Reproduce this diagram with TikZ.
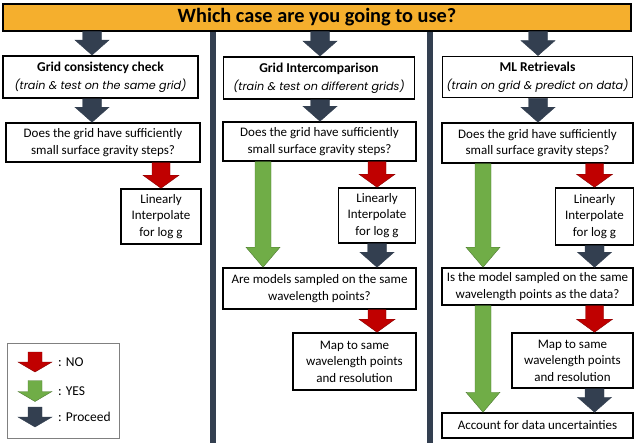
\documentclass[tikz,border=0pt]{standalone}
\usepackage{fontspec}
\setmainfont{Carlito}
\newfontfamily\hdfont{Poppins}
\usetikzlibrary{calc}
\definecolor{navy}{HTML}{333F50}
\definecolor{nored}{HTML}{C00000}
\definecolor{yesgreen}{HTML}{70AD47}
\definecolor{caseorange}{HTML}{F5AF2D}

% block arrow: style, top point, tip point
\tikzset{arrshaft/.store in=\arrshaft, arrhead/.store in=\arrhead,
  arrtip/.store in=\arrtip}
\newcommand{\bigarrow}[3]{%
  \path[#1] let \p1=(#2), \p2=(#3) in
    ({\x1-\arrshaft},\y1) -- ({\x1+\arrshaft},\y1)
    -- ({\x1+\arrshaft},{\y2+\arrtip}) -- ({\x1+\arrhead},{\y2+\arrtip})
    -- (\x1,\y2) -- ({\x1-\arrhead},{\y2+\arrtip})
    -- ({\x1-\arrshaft},{\y2+\arrtip}) -- cycle;}
\newcommand{\hdsub}[1]{{\hdfont\itshape\fontsize{11.2}{14}\selectfont #1}}

\begin{document}
\begin{tikzpicture}[
  x=1pt,y=-1pt,
  box/.style={draw, line width=1.5pt, fill=white, inner sep=0pt,
    align=center, font=\fontsize{13}{16.5}\selectfont},
  headbox/.style={box, line width=1.8pt, font=\fontsize{13.5}{18}\selectfont},
  titlebar/.style={draw, line width=1.2pt, fill=caseorange, inner sep=0pt,
    font=\bfseries\fontsize{20.3}{24}\selectfont},
  keytext/.style={anchor=west, inner sep=0pt, font=\fontsize{13.5}{15}\selectfont},
  goarrow/.style={fill=navy, draw=navy, line width=0.4pt,
    arrshaft=9.5pt, arrhead=17pt, arrtip=15pt},
  noarrow/.style={fill=nored, draw=nored!70!black, line width=0.4pt,
    arrshaft=9pt, arrhead=18pt, arrtip=13pt},
  yesarrow/.style={fill=yesgreen, draw=yesgreen!70!black, line width=0.4pt,
    arrshaft=8pt, arrhead=17pt, arrtip=20pt},
  keyarrow/.style={arrshaft=7pt, arrhead=17pt, arrtip=10pt},
  ]
  \useasboundingbox (0,0) rectangle (634,443);
  % column separators
  \fill[navy] (209.5,31) rectangle (215.5,443);
  \fill[navy] (427,31) rectangle (433,443);
  % title
  \node[titlebar, minimum width=628pt, minimum height=27pt] (title)
    at (317,17.5) {Which case are you going to use?};
  % case headers
  \node[headbox, minimum width=195pt, minimum height=42pt] (hd1) at (100.5,77)
    {\textbf{Grid consistency check}\\\hdsub{(train \& test on the same grid)}};
  \node[headbox, minimum width=191pt, minimum height=42pt] (hd2) at (319,78)
    {\textbf{Grid Intercomparison}\\\hdsub{(train \& test on different grids)}};
  \node[headbox, minimum width=190pt, minimum height=41pt] (hd3) at (537.5,77)
    {\textbf{ML Retrievals}\\\hdsub{(train on grid \& predict on data)}};
  % first question
  \node[box, minimum width=194pt, minimum height=39pt] (qa1) at (103,142.5)
    {Does the grid have sufficiently\\small surface gravity steps?};
  \node[box, minimum width=193pt, minimum height=39pt] (qa2) at (319.5,141.5)
    {Does the grid have sufficiently\\small surface gravity steps?};
  \node[box, minimum width=191pt, minimum height=40pt] (qa3) at (537.5,143)
    {Does the grid have sufficiently\\small surface gravity steps?};
  % interpolation
  \node[box, minimum width=80pt, minimum height=55pt] (lin1) at (161,216.5)
    {Linearly\\Interpolate\\for log g};
  \node[box, minimum width=77pt, minimum height=55pt] (lin2) at (377,215.5)
    {Linearly\\Interpolate\\for log g};
  \node[box, minimum width=78pt, minimum height=57pt] (lin3) at (594.5,216.5)
    {Linearly\\Interpolate\\for log g};
  % wavelength question
  \node[box, minimum width=193pt, minimum height=41pt] (qb2) at (319.5,288.5)
    {Are models sampled on the same\\wavelength points?};
  \node[box, minimum width=191pt, minimum height=37pt] (qb3) at (537.5,286.5)
    {Is the model sampled on the same\\wavelength points as the data?};
  % mapping
  \node[box, minimum width=123pt, minimum height=57pt] (map2) at (354.5,361.5)
    {Map to same\\wavelength points\\and resolution};
  \node[box, minimum width=121pt, minimum height=55pt] (map3) at (572.5,360.5)
    {Map to same\\wavelength points\\and resolution};
  \node[box, minimum width=191pt, minimum height=25pt] (acc3) at (537.5,425.5)
    {Account for data uncertainties};

  % arrow columns
  \coordinate (c1) at (92,0);
  \coordinate (c2) at (320,0);
  \coordinate (c3) at (538,0);
  \coordinate (g2) at (263,0);
  \coordinate (g3) at (483,0);

  % case 1
  \bigarrow{goarrow}{c1 |- title.south}{c1 |- hd1.north}
  \bigarrow{goarrow}{c1 |- hd1.south}{c1 |- qa1.north}
  \bigarrow{noarrow}{lin1.north |- qa1.south}{lin1.north}
  % case 2
  \bigarrow{goarrow}{c2 |- title.south}{c2 |- hd2.north}
  \bigarrow{goarrow}{c2 |- hd2.south}{c2 |- qa2.north}
  \bigarrow{noarrow}{lin2.north |- qa2.south}{lin2.north}
  \bigarrow{yesarrow}{g2 |- qa2.south}{g2 |- qb2.north}
  \bigarrow{goarrow}{lin2.south}{lin2.south |- qb2.north}
  \bigarrow{noarrow}{lin2.south |- qb2.south}{lin2.south |- map2.north}
  % case 3
  \bigarrow{goarrow}{c3 |- title.south}{c3 |- hd3.north}
  \bigarrow{goarrow}{c3 |- hd3.south}{c3 |- qa3.north}
  \bigarrow{noarrow}{lin3.north |- qa3.south}{lin3.north}
  \bigarrow{yesarrow}{g3 |- qa3.south}{g3 |- qb3.north}
  \bigarrow{goarrow}{lin3.south}{lin3.south |- qb3.north}
  \bigarrow{noarrow}{lin3.south |- qb3.south}{lin3.south |- map3.north}
  \bigarrow{yesarrow}{g3 |- qb3.south}{g3 |- acc3.north}
  \bigarrow{goarrow}{lin3.south |- map3.south}{lin3.south |- acc3.north}

  % key
  \draw[gray, line width=0.8pt] (7,343) rectangle (119,438);
  \node[keytext] (kno) at (58,362) {: NO};
  \node[keytext] (kyes) at (58,391) {: YES};
  \node[keytext] (kgo) at (58,417) {: Proceed};
  \bigarrow{noarrow,keyarrow}{[xshift=-23pt,yshift=10pt]kno.west}{[xshift=-23pt,yshift=-10pt]kno.west}
  \bigarrow{yesarrow,keyarrow}{[xshift=-23pt,yshift=10.5pt]kyes.west}{[xshift=-23pt,yshift=-10.5pt]kyes.west}
  \bigarrow{goarrow,keyarrow}{[xshift=-23pt,yshift=10pt]kgo.west}{[xshift=-23pt,yshift=-10pt]kgo.west}
\end{tikzpicture}
\end{document}
